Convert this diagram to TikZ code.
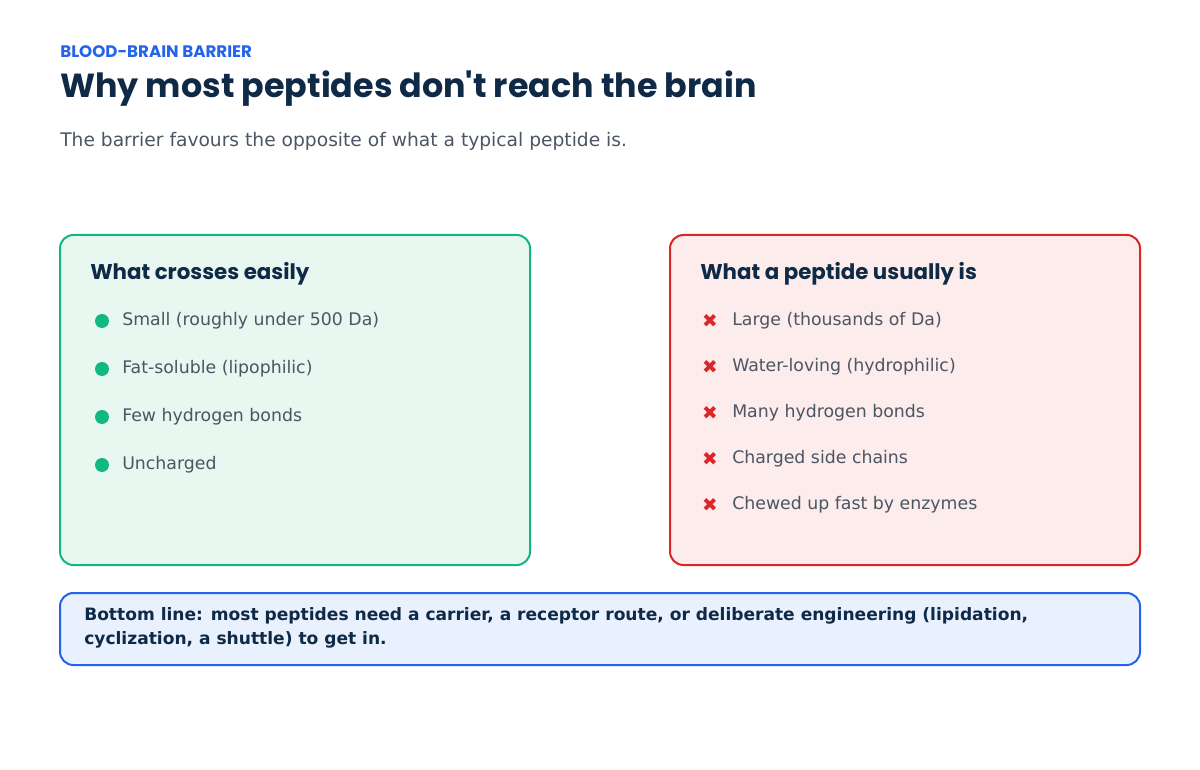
\documentclass[tikz,border=0pt]{standalone}
\usepackage{fontspec}
\setmainfont{DejaVu Sans}
\newfontfamily\pop{Poppins}
\definecolor{navy}{HTML}{0F2A47}
\definecolor{kblue}{HTML}{2563EB}
\definecolor{grey}{HTML}{4B5563}
\definecolor{gfill}{HTML}{E8F7F0}
\definecolor{gline}{HTML}{10B981}
\definecolor{rfill}{HTML}{FCECEC}
\definecolor{rline}{HTML}{DC2626}
\definecolor{bfill}{HTML}{E8F1FD}
\begin{document}
\begin{tikzpicture}[x=0.75pt,y=-0.75pt,
  panel/.style={draw, line width=1.5pt, rounded corners=10pt},
  head/.style={anchor=west, inner sep=0, font=\pop\bfseries\fontsize{16}{19}\selectfont, text=navy},
  item/.style={anchor=west, inner sep=0, font=\fontsize{13}{16}\selectfont, text=grey},
  dot/.style={circle, fill=gline, inner sep=0, minimum size=10.5pt},
  cross/.style={inner sep=0, font=\bfseries\fontsize{14}{16}\selectfont, text=rline}]
\useasboundingbox (0,0) rectangle (1200,770);
\node[anchor=west,inner sep=0,font=\pop\bfseries\fontsize{12.5}{15}\selectfont,text=kblue] (kick) at (60,52) {BLOOD-BRAIN BARRIER};
\node[anchor=west,inner sep=0,font=\pop\bfseries\fontsize{25}{30}\selectfont,text=navy] (title) at (60,89) {Why most peptides don't reach the brain};
\node[anchor=west,inner sep=0,font=\fontsize{14}{17}\selectfont,text=grey] (sub) at (60,141) {The barrier favours the opposite of what a typical peptide is.};
\draw[panel, draw=gline, fill=gfill] (60,235) rectangle (530,565);
\draw[panel, draw=rline, fill=rfill] (670,235) rectangle (1140,565);
\node[head] (gh) at (90,274) {What crosses easily};
\node[head] (rh) at (700,274) {What a peptide usually is};
\foreach \t [count=\i] in {Small (roughly under 500 Da),Fat-soluble (lipophilic),Few hydrogen bonds,Uncharged}{
  \node[dot] (gd\i) at (102,{321+48*(\i-1)}) {};
  \node[item] (gi\i) at (122,{321+48*(\i-1)}) {\t};
}
\foreach \t [count=\i] in {Large (thousands of Da),Water-loving (hydrophilic),Many hydrogen bonds,Charged side chains,Chewed up fast by enzymes}{
  \node[cross] (rx\i) at (710,{321+46*(\i-1)}) {✖};
  \node[item] (ri\i) at (732,{321+46*(\i-1)}) {\t};
}
\draw[panel, draw=kblue, fill=bfill] (60,593) rectangle (1140,665);
\node[anchor=north west,inner sep=0,align=left,font=\bfseries\fontsize{12.8}{18}\selectfont,text=navy] (bl) at (84,607) {Bottom line: most peptides need a carrier, a receptor route, or deliberate engineering (lipidation,\\cyclization, a shuttle) to get in.};
\end{tikzpicture}
\end{document}
